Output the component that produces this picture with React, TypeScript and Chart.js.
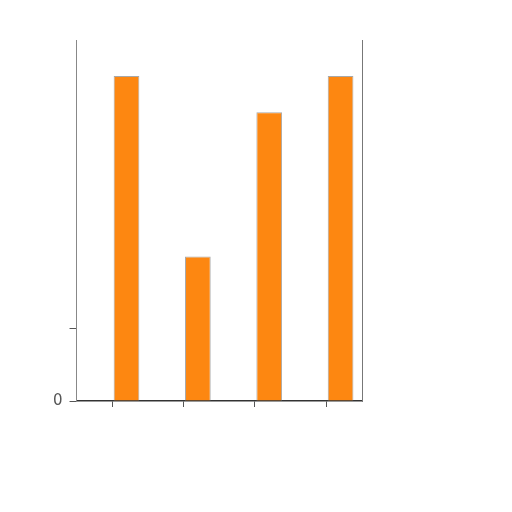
import { useEffect, useRef } from 'react';
import { Chart, registerables } from 'chart.js';

Chart.register(...registerables);

// Category names (not shown on the axis in the reference)
const categories = ['Q1', 'Q2', 'Q3', 'Q4'];
// First series leaves an empty slot left of each orange bar
const seriesA: (number | null)[] = [null, null, null, null];
const seriesB = [4.5, 2, 4, 4.5];
const yTicks = [0, 1];

const App = () => {
  const canvasRef = useRef<HTMLCanvasElement>(null);

  useEffect(() => {
    if (!canvasRef.current) return;
    const chart = new Chart(canvasRef.current, {
      type: 'bar',
      data: {
        labels: categories,
        datasets: [
          { label: 'A', data: seriesA, backgroundColor: '#d8d8d8' },
          {
            label: 'B',
            data: seriesB,
            backgroundColor: '#fd8711',
            borderColor: '#a8a8a8',
            borderWidth: 1,
          },
        ],
      },
      options: {
        animation: false,
        responsive: true,
        maintainAspectRatio: false,
        layout: { padding: { left: 46, right: 142, top: 40, bottom: 105 } },
        plugins: { legend: { display: false }, tooltip: { enabled: false } },
        scales: {
          x: {
            grid: { display: true, drawOnChartArea: false, offset: false, tickLength: 6, color: '#555' },
            border: { display: true, color: '#333', width: 1.5 },
            ticks: { display: false },
          },
          y: {
            min: 0,
            max: 5,
            afterBuildTicks: (axis: any) => {
              axis.ticks = yTicks.map((v) => ({ value: v }));
            },
            grid: { display: true, drawOnChartArea: false, tickLength: 7, color: '#555' },
            border: { display: true, color: '#888', width: 1 },
            ticks: {
              color: '#555',
              font: { family: 'DejaVu Sans', size: 15 },
              padding: 7,
              callback: (v: any) => (Number(v) === 0 ? '0' : ''),
            },
          },
          y2: {
            position: 'right',
            min: 0,
            max: 5,
            grid: { display: false },
            border: { display: true, color: '#777', width: 1 },
            ticks: { display: false },
          },
        },
      },
    });
    return () => chart.destroy();
  }, []);

  return (
    <div style={{ position: 'fixed', left: 0, top: 0, width: 512, height: 512, background: '#fff' }}>
      <canvas ref={canvasRef}></canvas>
    </div>
  );
};

export default App;
